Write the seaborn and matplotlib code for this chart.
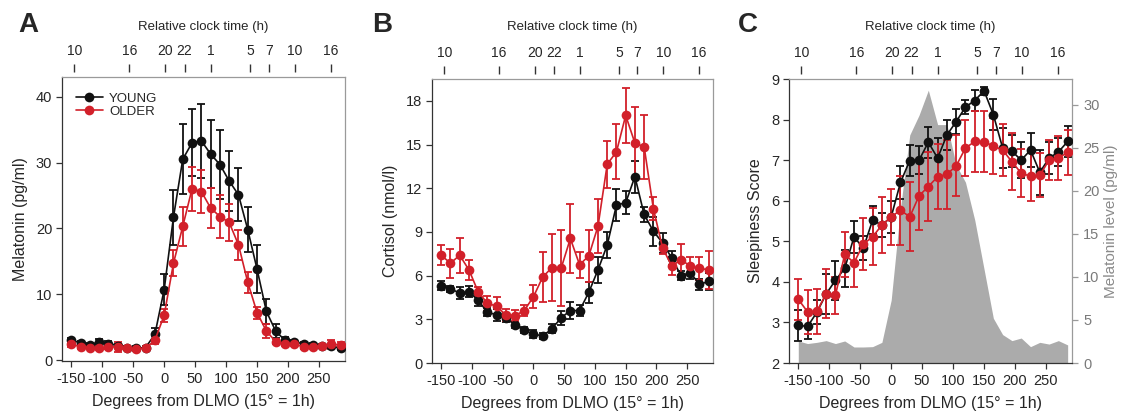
import matplotlib
matplotlib.use("Agg")
import matplotlib.pyplot as plt
import seaborn as sns
import pandas as pd

# ---------------- data ----------------
degrees = [-150, -135, -120, -105, -90, -75, -60, -45, -30, -15, 0, 15, 30, 45, 60,
           75, 90, 105, 120, 135, 150, 165, 180, 195, 210, 225, 240, 255, 270, 285]

clock_pos = [-145, -56, 2, 33, 76, 139, 169, 211, 269]
clock_labels = ["10", "16", "20", "22", "1", "5", "7", "10", "16"]

mel_young = [3.0, 2.6, 2.3, 2.8, 2.5, 2.2, 1.9, 1.8, 1.9, 3.9, 10.7, 21.7, 30.5, 33.0, 33.3,
             31.3, 29.7, 27.2, 25.1, 19.8, 13.8, 7.4, 4.4, 3.0, 2.7, 2.5, 2.3, 2.2, 2.1, 1.8]
mel_young_err = [0.3, 0.3, 0.3, 0.4, 0.4, 0.3, 0.3, 0.3, 0.3, 1.0, 2.3, 4.2, 5.3, 5.1, 5.6,
                 5.2, 5.3, 4.6, 4.0, 3.4, 3.6, 1.9, 1.0, 0.5, 0.4, 0.3, 0.3, 0.3, 0.3, 0.3]
mel_older = [2.4, 2.0, 1.9, 1.8, 2.0, 2.0, 1.8, 1.7, 1.8, 3.0, 6.8, 14.7, 20.3, 26.0, 25.6,
             23.1, 21.8, 20.9, 17.5, 11.8, 7.2, 4.4, 2.8, 2.4, 2.4, 2.0, 2.0, 2.2, 2.4, 2.3]
mel_older_err = [0.4, 0.3, 0.3, 0.3, 0.4, 0.8, 0.3, 0.3, 0.3, 0.6, 1.0, 2.0, 3.0, 3.3, 3.2,
                 3.1, 3.2, 2.8, 2.3, 1.6, 0.9, 1.0, 0.4, 0.3, 0.3, 0.3, 0.3, 0.3, 0.7, 0.4]

cort_young = [5.3, 5.1, 4.8, 4.9, 4.3, 3.5, 3.3, 3.1, 2.6, 2.25, 2.0, 1.85, 2.35, 3.1, 3.6,
              3.6, 4.85, 6.4, 8.1, 10.85, 11.0, 12.8, 10.2, 9.05, 8.25, 7.2, 6.0, 6.2, 5.4, 5.6]
cort_young_err = [0.3, 0.2, 0.4, 0.4, 0.4, 0.3, 0.4, 0.3, 0.2, 0.2, 0.3, 0.2, 0.3, 0.5, 0.6,
                  0.4, 0.7, 0.9, 0.9, 1.1, 0.8, 1.1, 0.5, 1.0, 0.7, 0.5, 0.3, 0.4, 0.4, 0.6]
cort_older = [7.4, 6.85, 7.4, 6.4, 4.9, 4.1, 3.9, 3.3, 3.25, 3.6, 4.55, 5.9, 6.55, 6.5, 8.55,
              6.75, 7.35, 9.4, 13.65, 14.5, 17.0, 15.1, 14.85, 10.6, 7.9, 6.65, 7.1, 6.65, 6.5, 6.4]
cort_older_err = [0.7, 1.0, 1.2, 0.7, 0.3, 0.5, 0.6, 0.4, 0.4, 0.4, 0.8, 1.7, 2.3, 2.6, 2.4,
                  0.9, 1.8, 1.85, 1.6, 1.9, 1.9, 2.5, 2.2, 0.8, 0.4, 0.6, 1.05, 0.6, 0.8, 1.3]

sleep_young = [2.93, 2.9, 3.25, 3.7, 4.04, 4.33, 5.11, 4.83, 5.52, 5.4, 5.6, 6.45, 6.99, 7.0, 7.44,
               7.05, 7.62, 7.95, 8.31, 8.47, 8.71, 8.12, 7.3, 7.22, 7.0, 7.25, 6.7, 7.05, 7.2, 7.46]
sleep_young_err = [0.38, 0.3, 0.3, 0.5, 0.48, 0.45, 0.4, 0.3, 0.35, 0.3, 0.4, 0.4, 0.39, 0.35, 0.38,
                   0.5, 0.38, 0.3, 0.18, 0.25, 0.1, 0.38, 0.5, 0.4, 0.45, 0.42, 0.55, 0.4, 0.35, 0.38]
sleep_older = [3.57, 3.26, 3.27, 3.71, 3.67, 4.68, 4.47, 4.93, 5.11, 5.4, 5.6, 5.77, 5.6, 6.12, 6.35,
               6.59, 6.65, 6.86, 7.3, 7.46, 7.45, 7.35, 7.25, 6.96, 6.68, 6.6, 6.63, 7.0, 7.05, 7.19]
sleep_older_err = [0.5, 0.55, 0.55, 0.6, 0.45, 0.55, 0.6, 0.65, 0.7, 0.7, 0.7, 0.85, 0.85, 0.85, 0.85,
                   0.8, 0.85, 0.75, 0.7, 0.75, 0.75, 0.7, 0.65, 0.7, 0.6, 0.6, 0.55, 0.5, 0.55, 0.55]

mel_area = [2.56, 2.26, 2.4, 2.6, 2.26, 2.56, 1.86, 1.86, 1.9, 2.4, 7.3, 18.0, 26.5, 28.8, 31.7,
            27.7, 27.7, 23.0, 21.0, 16.6, 10.9, 5.2, 3.3, 2.6, 2.9, 1.9, 2.4, 2.2, 2.6, 2.1]

# ---------------- style ----------------
sns.set_style("white")
plt.rcParams["font.family"] = ["Liberation Sans", "DejaVu Sans"]
plt.rcParams["axes.unicode_minus"] = False

BLACK = "#111111"
RED = "#d2202a"
AREA = "#ababab"
DARK = "#333333"
LIGHT = "#9a9a9a"

W, H = 1122, 415
fig = plt.figure(figsize=(W / 100, H / 100), dpi=100)


def make_axes(x0, x1, y0, y1):
    return fig.add_axes([x0 / W, 1 - y1 / H, (x1 - x0) / W, (y1 - y0) / H])


def draw_series(ax, y, err, color, label):
    df = pd.DataFrame({"deg": degrees, "val": y})
    ax.errorbar(degrees, y, yerr=err, fmt="none", ecolor=color, elinewidth=1.3,
                capsize=3.2, capthick=1.3, zorder=2)
    sns.lineplot(data=df, x="deg", y="val", ax=ax, color=color, linewidth=1.2,
                 marker="o", markersize=7, markeredgecolor=color, markeredgewidth=0,
                 label=label, zorder=3)


def style_axes(ax, ylim, yticks, ylabel, letter, ax_center_px, letter_px):
    ax.set_xlim(-165, 292)
    ax.set_ylim(*ylim)
    ax.set_xticks([-150, -100, -50, 0, 50, 100, 150, 200, 250])
    ax.set_yticks(yticks)
    ax.tick_params(axis="both", direction="out", length=4, width=0.9, color=DARK,
                   labelsize=10.5, pad=3, bottom=True, left=True)
    ax.tick_params(axis="x", pad=4)
    for s in ["left", "bottom"]:
        ax.spines[s].set_color(DARK)
        ax.spines[s].set_linewidth(0.9)
    for s in ["top", "right"]:
        ax.spines[s].set_color(LIGHT)
        ax.spines[s].set_linewidth(0.9)
    ax.set_xlabel("Degrees from DLMO (15\u00b0 = 1h)", fontsize=11.5, labelpad=6)
    ax.set_ylabel(ylabel, fontsize=11.5, labelpad=6)

    top = ax.twiny()
    top.set_xlim(ax.get_xlim())
    top.set_xticks(clock_pos)
    top.set_xticklabels(clock_labels)
    for s in top.spines.values():
        s.set_visible(False)
    top.spines["top"].set_position(("outward", 3.6))
    top.tick_params(axis="x", direction="out", length=5.5, width=1.0, color=DARK,
                    labelsize=10, pad=4.5)
    fig.text(ax_center_px / W, 1 - 27 / H, "Relative clock time (h)", ha="center",
             va="center", fontsize=9.5)
    fig.text(letter_px / W, 1 - 25 / H, letter, ha="center", va="center",
             fontsize=20, fontweight="bold")
    return top


# ---------------- Panel A ----------------
axA = make_axes(62, 345, 77, 361)
draw_series(axA, mel_young, mel_young_err, BLACK, "YOUNG")
draw_series(axA, mel_older, mel_older_err, RED, "OLDER")
style_axes(axA, (-0.15, 43.0), [0, 10, 20, 30, 40], "Melatonin (pg/ml)", "A", 203, 28)
axA.legend(loc="upper left", bbox_to_anchor=(0.05, 0.945), frameon=False,
           fontsize=9.5, handlelength=2.0, handletextpad=0.5, labelspacing=0.05,
           borderpad=0, borderaxespad=0)

# ---------------- Panel B ----------------
axB = make_axes(432, 713, 79, 363)
draw_series(axB, cort_young, cort_young_err, BLACK, "YOUNG")
draw_series(axB, cort_older, cort_older_err, RED, "OLDER")
style_axes(axB, (0, 19.5), [0, 3, 6, 9, 12, 15, 18], "Cortisol (nmol/l)", "B", 572, 382)
axB.get_legend().remove()

# ---------------- Panel C ----------------
axC = make_axes(789, 1072, 79, 363)
axR = axC.twinx()
axR.fill_between(degrees, 0, mel_area, color=AREA, linewidth=0)
axR.set_ylim(0, 33)
axR.set_yticks([0, 5, 10, 15, 20, 25, 30])
axR.tick_params(axis="y", direction="out", length=4, width=0.9, color=LIGHT,
                labelcolor="#7a7a7a", labelsize=10.5, pad=4)
for s in axR.spines.values():
    s.set_visible(False)
axR.set_ylabel("Melatonin level (pg/ml)", color="#8a8a8a", fontsize=11)
axR.yaxis.set_label_coords(1.112, 0.5)
axC.set_zorder(axR.get_zorder() + 1)
axC.patch.set_visible(False)

draw_series(axC, sleep_young, sleep_young_err, BLACK, "YOUNG")
draw_series(axC, sleep_older, sleep_older_err, RED, "OLDER")
style_axes(axC, (2, 9), [2, 3, 4, 5, 6, 7, 8, 9], "Sleepiness Score", "C", 930, 748)
axC.get_legend().remove()
axR.set_xlim(axC.get_xlim())

fig.savefig("out.png", dpi=100)
